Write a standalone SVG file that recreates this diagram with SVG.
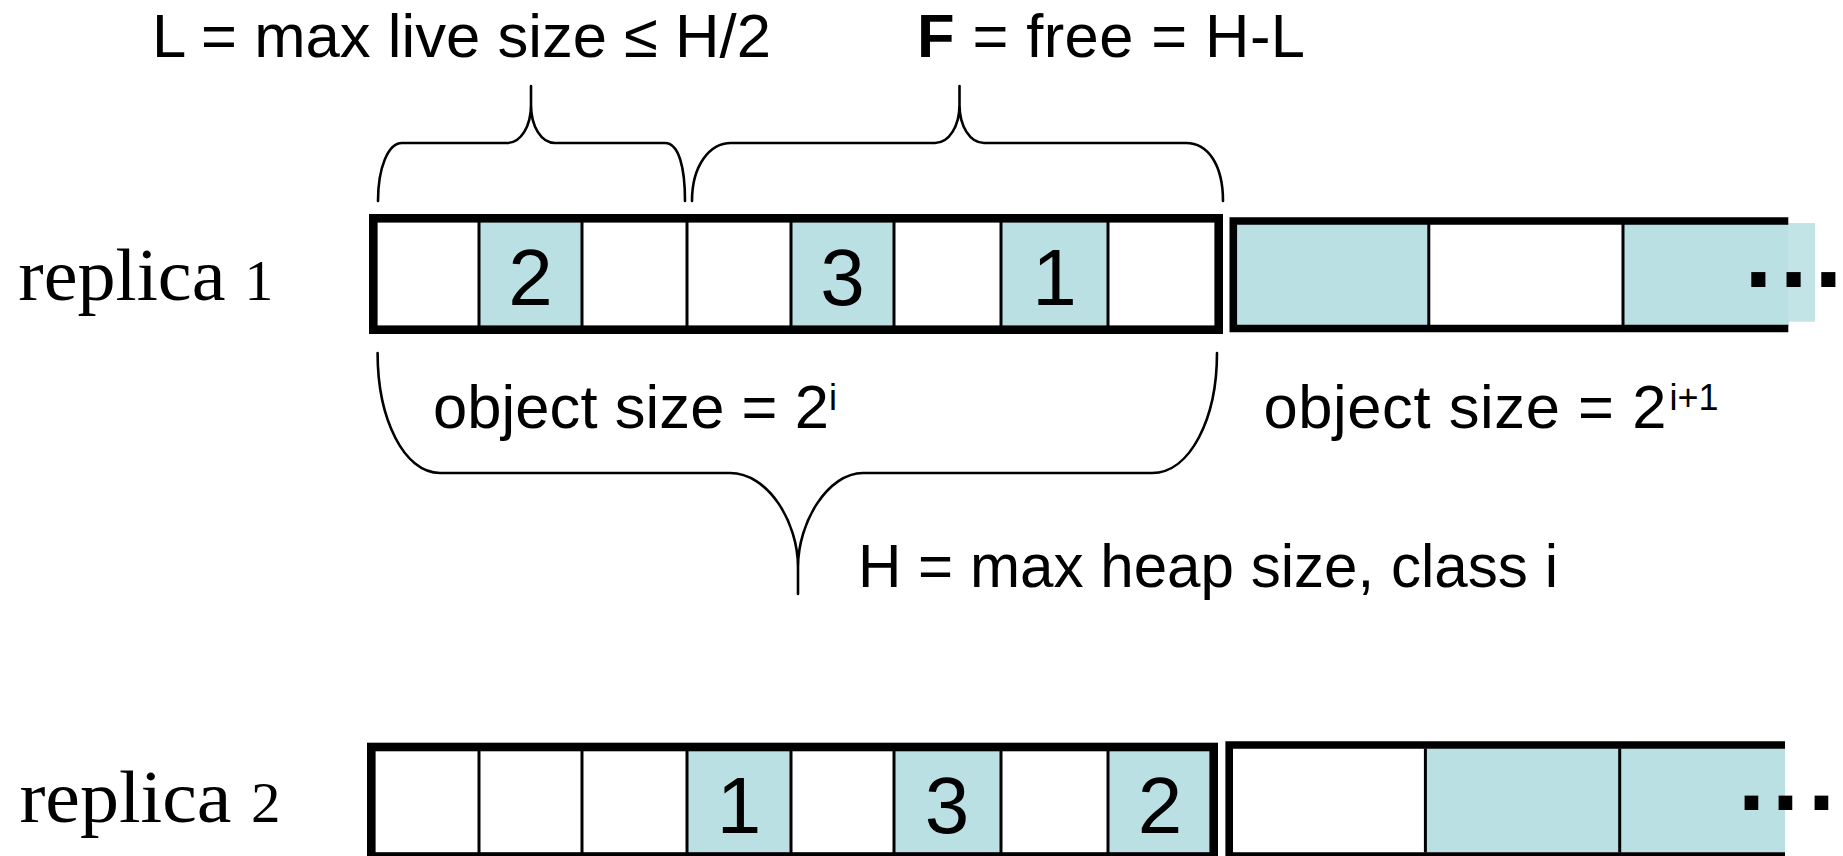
<svg xmlns="http://www.w3.org/2000/svg" width="1843" height="856" viewBox="0 0 1843 856">
  <style>
    .sans { font-family: "Liberation Sans", Arial, sans-serif; fill: #000; }
    .serif { font-family: "Liberation Serif", "Times New Roman", serif; fill: #000; }
    .lbl { font-size: 61.5px; }
    .num { font-size: 80px; text-anchor: middle; }
    .sup { font-size: 36px; }
    .dots { font-family: "Liberation Sans", Arial, sans-serif; font-weight: bold; fill: #000; }
    .live { fill: #bbe0e3; }
    .free { fill: #fff; }
    .ext { fill: #c3e4e7; }
    .div { stroke: #000; stroke-width: 3; }
    .frame { fill: none; stroke: #000; stroke-width: 8.6; }
    .open { fill: none; stroke: #000; stroke-width: 7.6; }
    .brace { fill: none; stroke: #000; stroke-width: 2.6; stroke-linecap: round; stroke-linejoin: round; }
  </style>

  <rect width="1843" height="856" fill="#fff"/>

  <!-- headings above the first replica -->
  <text id="label-live" class="sans lbl" x="152" y="57.3" textLength="619" lengthAdjust="spacingAndGlyphs">L = max live size ≤ H/2</text>
  <text id="label-free" class="sans lbl" x="917" y="57.3" textLength="388" lengthAdjust="spacing"><tspan font-weight="bold">F</tspan> = free = H-L</text>

  <!-- braces -->
  <g id="braces">
    <path class="brace" d="M378,201 C378,168 388,143 402,143 L507,143 C521,143 531,126 531,105 L531,86 M531,105 C531,126 541,143 555,143 L665,143 C679,143 685,168 685,201"/>
    <path class="brace" d="M692,201 C692,165 710,143 731,143 L935,143 C949,143 959.5,126 959.5,105 L959.5,86 M959.5,105 C959.5,126 970,143 984,143 L1186,143 C1208,143 1223,165 1223,201"/>
    <path class="brace" d="M377.6,353 C377.6,419 404,473 440,473 L730,473 C768,473 798,522 798,567 L798,594 M798,567 C798,522 828,473 863,473 L1152,473 C1190,473 1217,419 1217,353"/>
  </g>

  <!-- replica 1 -->
  <g id="replica-1">
    <text class="serif" x="18.3" y="300" font-size="74" textLength="255" lengthAdjust="spacingAndGlyphs">replica <tspan font-size="56">1</tspan></text>

    <g id="r1-class-i">
      <rect class="free" x="377.6" y="222" width="837" height="104"/>
      <rect class="live" x="479" y="222" width="103" height="104"/>
      <rect class="live" x="791" y="222" width="103" height="104"/>
      <rect class="live" x="1001" y="222" width="107" height="104"/>
      <g class="div">
        <line x1="479" y1="222" x2="479" y2="326"/>
        <line x1="582" y1="222" x2="582" y2="326"/>
        <line x1="687" y1="222" x2="687" y2="326"/>
        <line x1="791" y1="222" x2="791" y2="326"/>
        <line x1="894" y1="222" x2="894" y2="326"/>
        <line x1="1001" y1="222" x2="1001" y2="326"/>
        <line x1="1108" y1="222" x2="1108" y2="326"/>
      </g>
      <rect class="frame" x="373.3" y="218.3" width="845.4" height="111.4"/>
      <text class="sans num" x="530.5" y="304.5">2</text>
      <text class="sans num" x="842.5" y="304.5">3</text>
      <text class="sans num" x="1054.5" y="304.5">1</text>
    </g>

    <g id="r1-class-i1">
      <rect class="live" x="1237" y="224" width="192" height="102"/>
      <rect class="free" x="1429" y="224" width="194" height="102"/>
      <rect class="live" x="1623" y="224" width="166" height="102"/>
      <rect class="ext" x="1788.3" y="223" width="26.7" height="98.7"/>
      <g class="div">
        <line x1="1428.8" y1="224" x2="1428.8" y2="326"/>
        <line x1="1623" y1="224" x2="1623" y2="326"/>
      </g>
      <path class="open" d="M1788.3,221 H1233.3 V328.5 H1788.3"/>
      <text class="dots" x="1744.5 1779.8 1814.5" y="286.7" font-size="100">...</text>
    </g>
  </g>

  <!-- size annotations -->
  <text id="label-size-i" class="sans lbl" x="433" y="428.3"><tspan textLength="396" lengthAdjust="spacing">object size = 2</tspan><tspan class="sup" x="829" y="410">i</tspan></text>
  <text id="label-size-i1" class="sans lbl" x="1263.5" y="428.3"><tspan textLength="403" lengthAdjust="spacing">object size = 2</tspan><tspan class="sup" x="1669.5" y="410">i+1</tspan></text>
  <text id="label-heap" class="sans lbl" x="858" y="586.7" textLength="700" lengthAdjust="spacingAndGlyphs">H = max heap size, class i</text>

  <!-- replica 2 -->
  <g id="replica-2">
    <text class="serif" x="19.4" y="821.7" font-size="74" textLength="261" lengthAdjust="spacingAndGlyphs">replica <tspan font-size="56">2</tspan></text>

    <g id="r2-class-i">
      <rect class="free" x="375.6" y="751" width="838" height="103"/>
      <rect class="live" x="687" y="751" width="104" height="103"/>
      <rect class="live" x="894" y="751" width="107" height="103"/>
      <rect class="live" x="1108" y="751" width="106" height="103"/>
      <g class="div">
        <line x1="479" y1="751" x2="479" y2="854"/>
        <line x1="582" y1="751" x2="582" y2="854"/>
        <line x1="687" y1="751" x2="687" y2="854"/>
        <line x1="791" y1="751" x2="791" y2="854"/>
        <line x1="894" y1="751" x2="894" y2="854"/>
        <line x1="1001" y1="751" x2="1001" y2="854"/>
        <line x1="1108" y1="751" x2="1108" y2="854"/>
      </g>
      <rect class="frame" x="371.3" y="747" width="842.4" height="109.5"/>
      <text class="sans num" x="739" y="832.5">1</text>
      <text class="sans num" x="947" y="832.5">3</text>
      <text class="sans num" x="1160" y="832.5">2</text>
    </g>

    <g id="r2-class-i1">
      <rect class="free" x="1232.5" y="748.5" width="193" height="104"/>
      <rect class="live" x="1425.4" y="748.5" width="194.3" height="104"/>
      <rect class="live" x="1619.7" y="748.5" width="165.3" height="104"/>
      <g class="div">
        <line x1="1425.4" y1="748.5" x2="1425.4" y2="852.5"/>
        <line x1="1619.7" y1="748.5" x2="1619.7" y2="852.5"/>
      </g>
      <path class="open" d="M1785,745 H1229.2 V856 M1229.2,856 H1785" stroke-width="7"/>
      <text class="dots" x="1738 1772 1808" y="810" font-size="97">...</text>
    </g>
  </g>
</svg>
